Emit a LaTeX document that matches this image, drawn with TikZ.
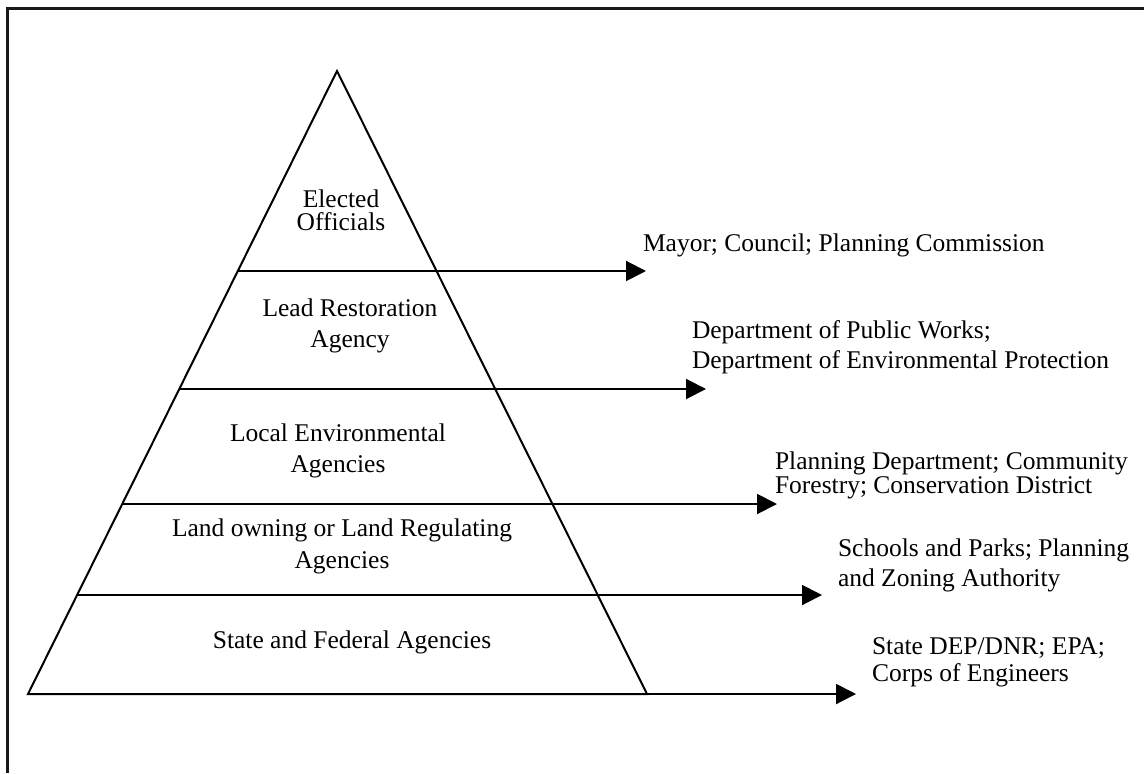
\documentclass[tikz,border=0pt]{standalone}
\usepackage{fontspec}
\setmainfont{Liberation Serif}
\usetikzlibrary{arrows.meta,calc}
\tikzset{
  edge/.style={line width=1pt, line join=miter},
  arr/.style={line width=1pt, -{Triangle[length=10pt,width=10pt]}},
  frame/.style={line width=1.5pt, draw=black!90},
  lbl/.style={font=\fontsize{12.75}{#1}\selectfont, inner sep=0pt, outer sep=0pt},
  lvl/.style={lbl=#1, align=center, anchor=base},
  side/.style={lbl=#1, align=left, anchor=base west}
}
\begin{document}
\begin{tikzpicture}[x=0.5pt,y=-0.5pt]
\useasboundingbox (0,0) rectangle (1144,773);
% frame (right and bottom edges lie outside the picture)
\draw[frame] (7,773) -- (7,8) -- (1144,8);
% pyramid
\coordinate (apex) at (337,71);
\coordinate (bl) at (28,694);
\coordinate (br) at (647,694);
\draw[edge] (bl) -- (apex) -- (br) -- cycle;
% level points on the left edge
\coordinate (l1) at ($(apex)!0.321!(bl)$);
\coordinate (l2) at ($(apex)!0.5104!(bl)$);
\coordinate (l3) at ($(apex)!0.6950!(bl)$);
\coordinate (l4) at ($(apex)!0.8411!(bl)$);
% arrow ends
\coordinate (t1) at (646,271);
\coordinate (t2) at (706,389);
\coordinate (t3) at (777,504);
\coordinate (t4) at (822,595);
\coordinate (t5) at (856,694);
\draw[arr] (l1) -- (l1 -| t1);
\draw[arr] (l2) -- (l2 -| t2);
\draw[arr] (l3) -- (l3 -| t3);
\draw[arr] (l4) -- (l4 -| t4);
\draw[arr] (br) -- (t5);
% level labels (anchored at the baseline of their last line)
\node[lvl=11.5pt] (elected) at (341,230) {Elected\\Officials};
\node[lvl=15.5pt] (lead)    at (350,347) {Lead Restoration\\Agency};
\node[lvl=15.5pt] (local)   at (338,472) {Local Environmental\\Agencies};
\node[lvl=16pt]   (land)    at (342,568) {Land owning or Land Regulating\\Agencies};
\node[lvl=14pt]   (state)   at (352,648) {State and Federal Agencies};
% side labels
\node[side=15pt] (mayor)   at (643,251) {Mayor; Council; Planning Commission};
\node[side=15pt] (dept)    at (692,368) {Department of Public Works;\\Department of Environmental Protection};
\node[side=12pt] (plan)    at (775,493) {Planning Department; Community\\Forestry; Conservation District};
\node[side=15pt] (school)  at (838,586) {Schools and Parks; Planning\\and Zoning Authority};
\node[side=13.5pt] (statedep) at (872,681) {State DEP/DNR; EPA;\\Corps of Engineers};
\end{tikzpicture}
\end{document}
